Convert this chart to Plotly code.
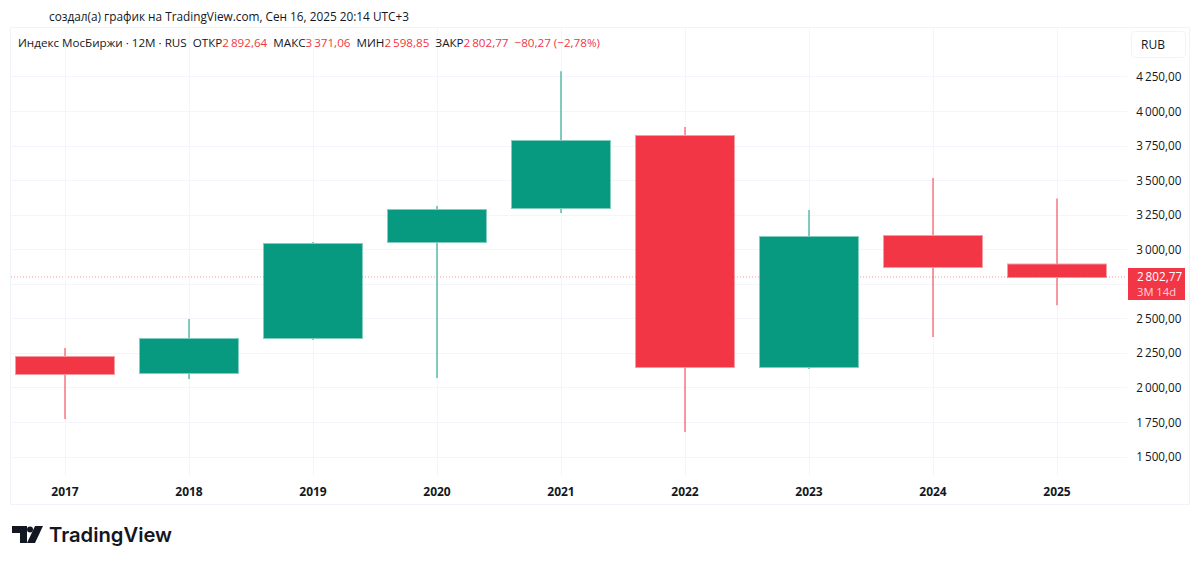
import plotly.graph_objects as go

years = [2017, 2018, 2019, 2020, 2021, 2022, 2023, 2024, 2025]
opens = [2223, 2108, 2361, 3056, 3302, 3823, 2151, 3099, 2892.64]
highs = [2289, 2499, 3056, 3316, 4292, 3888, 3287, 3519, 3371.06]
lows = [1775, 2064, 2347, 2072, 3266, 1681, 2137, 2368, 2598.85]
closes = [2100, 2354, 3041, 3287, 3787, 2151, 3092, 2875, 2802.77]
price_ticks = [1500, 1750, 2000, 2250, 2500, 2750, 3000, 3250, 3500, 3750, 4000, 4250]
price_labels = ["1\u2009500,00", "1\u2009750,00", "2\u2009000,00", "2\u2009250,00", "2\u2009500,00", "",
                "3\u2009000,00", "3\u2009250,00", "3\u2009500,00", "3\u2009750,00", "4\u2009000,00", "4\u2009250,00"]
last_close = 2802.77

GREEN, RED = "#089981", "#F23645"
GREEN_EDGE, RED_EDGE = "rgba(8,153,129,0.5)", "rgba(242,54,69,0.5)"
INK = "#131722"
FONT = "Open Sans, Noto Sans, sans-serif"
W, H = 1200, 565
L, R, T, B = 11, 1127, 27, 476


def px(x):
    return (x - L) / (R - L)


def py(y):
    return 1 - (y - T) / (B - T)


def pt(x, y):
    return f"{px(x):.5f},{py(y):.5f}"


def poly(points):
    return "M" + " L".join(pt(*p) for p in points) + " Z"


def round_rect(x0, y0, x1, y1, r):
    return (f"M{pt(x0 + r, y0)} L{pt(x1 - r, y0)} Q{pt(x1, y0)} {pt(x1, y0 + r)} "
            f"L{pt(x1, y1 - r)} Q{pt(x1, y1)} {pt(x1 - r, y1)} "
            f"L{pt(x0 + r, y1)} Q{pt(x0, y1)} {pt(x0, y1 - r)} "
            f"L{pt(x0, y0 + r)} Q{pt(x0, y0)} {pt(x0 + r, y0)} Z")


fig = go.Figure(go.Candlestick(
    x=years, open=opens, high=highs, low=lows, close=closes,
    increasing=dict(line=dict(color=GREEN_EDGE, width=2), fillcolor=GREEN),
    decreasing=dict(line=dict(color=RED_EDGE, width=2), fillcolor=RED),
    whiskerwidth=0, showlegend=False, hoverinfo="skip",
))

shapes = [
    dict(type="rect", xref="paper", yref="paper", x0=px(10.5), x1=px(1189.5), y0=py(504.5), y1=py(27.5),
         line=dict(color="#F0F3FA", width=1), layer="below"),
    dict(type="line", xref="paper", yref="y", x0=0, x1=1, y0=last_close, y1=last_close, layer="below",
         line=dict(color=RED_EDGE, width=1, dash="1px,2px")),
    dict(type="rect", xref="paper", yref="paper", x0=px(1128), x1=px(1185), y0=py(300), y1=py(268),
         fillcolor=RED, line=dict(width=0)),
    dict(type="path", xref="paper", yref="paper", fillcolor="white", line=dict(color="#F0F3FA", width=1),
         path=round_rect(1131.5, 31.5, 1185.5, 57.5, 4)),
    # TradingView mark
    dict(type="path", xref="paper", yref="paper", fillcolor=INK, line=dict(width=0),
         path=poly([(12, 526), (27, 526), (27, 543), (20, 543), (20, 533), (12, 533)])),
    dict(type="circle", xref="paper", yref="paper", fillcolor=INK, line=dict(width=0),
         x0=px(27), x1=px(33), y0=py(532.5), y1=py(526.5)),
    dict(type="path", xref="paper", yref="paper", fillcolor=INK, line=dict(width=0),
         path=poly([(35, 526), (43, 526), (35, 543), (27, 543)])),
]

annotations = [
    dict(text="создал(а) график на TradingView.com, Сен 16, 2025 20:14 UTC+3", x=px(49), y=py(16),
         font=dict(size=11.8, color=INK)),
    dict(text=("Индекс МосБиржи · 12M · RUS  ОТКР<span style='color:#F23645'>2\u2009892,64</span>"
               "  МАКС<span style='color:#F23645'>3\u2009371,06</span>"
               "  МИН<span style='color:#F23645'>2\u2009598,85</span>"
               "  ЗАКР<span style='color:#F23645'>2\u2009802,77  −80,27 (−2,78%)</span>"),
         x=px(18), y=py(42.5), font=dict(size=11.65, color=INK)),
    dict(text="RUB", x=px(1141), y=py(44), font=dict(size=12, color=INK)),
    dict(text="2\u2009802,77", x=px(1137), y=py(276), font=dict(size=11.7, color="white")),
    dict(text="3M 14d", x=px(1137), y=py(291), font=dict(size=11.2, color="#FCD5D9")),
    dict(text="TradingView", x=px(49), y=py(534.5),
         font=dict(size=20.2, color=INK, family="Inter, Open Sans, sans-serif", weight=600)),
]
for a in annotations:
    a.update(xref="paper", yref="paper", xanchor="left", yanchor="middle", showarrow=False,
             borderpad=0, borderwidth=0)

fig.update_layout(
    width=W, height=H, paper_bgcolor="white", plot_bgcolor="white",
    margin=dict(l=L, r=W - R, t=T, b=H - B, pad=0),
    font=dict(family=FONT, size=12, color=INK),
    boxgap=0, boxgroupgap=0.21,
    showlegend=False, hovermode=False, shapes=shapes, annotations=annotations,
    xaxis=dict(range=[2017 - 54 / 124, 2017 + (R - 65) / 124], rangeslider=dict(visible=False),
               tickmode="array", tickvals=years, ticktext=[f"<b>{y}</b>" for y in years],
               showgrid=True, gridcolor="#F3F5FA", gridwidth=1, zeroline=False, showline=False,
               ticks="outside", ticklen=5, tickcolor="rgba(0,0,0,0)", tickfont=dict(size=12, color=INK)),
    yaxis=dict(side="right", range=[1500 + (457 - B) / 0.1382, 1500 + (457 - T) / 0.1382],
               tickmode="array", tickvals=price_ticks, ticktext=price_labels,
               showgrid=True, gridcolor="#F3F5FA", gridwidth=1, zeroline=False, showline=False,
               ticks="outside", ticklen=6, tickcolor="rgba(0,0,0,0)", tickfont=dict(size=11.7, color=INK)),
)

fig.write_html("out.html", config=dict(displayModeBar=False),
               post_script="document.body.style.margin='0';document.body.style.overflow='hidden';")
